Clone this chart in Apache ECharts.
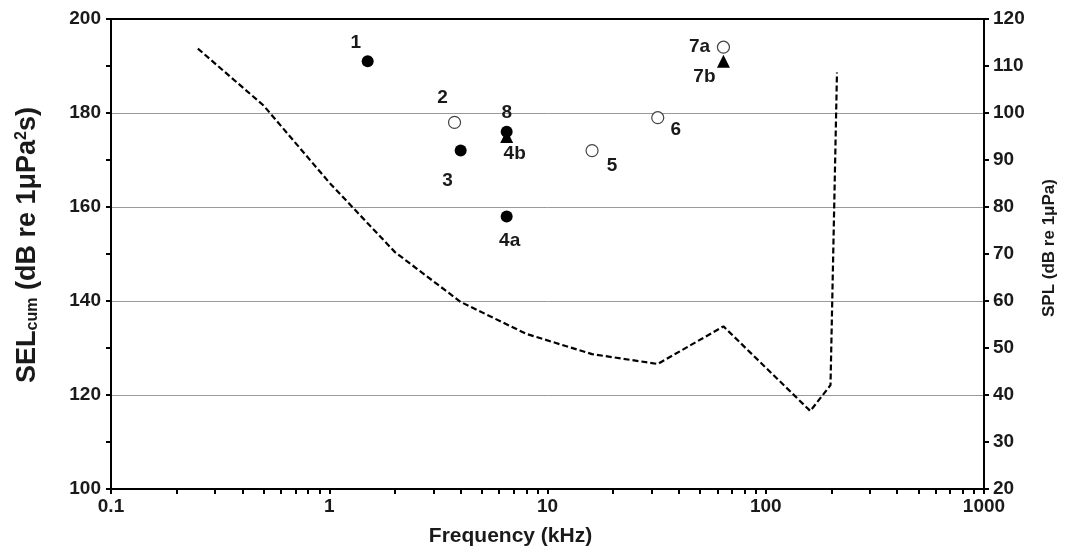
<!DOCTYPE html>
<html>
<head>
<meta charset="utf-8">
<style>
html,body{margin:0;padding:0;background:#fff;}
#chart{width:1068px;height:553px;}
</style>
<script src="https://cdn.jsdelivr.net/npm/echarts@6/dist/echarts.min.js"></script>
</head>
<body>
<div id="chart"></div>
<script>
// ---- data ----
const filledNames = ['1', '3', '4a', '8'];
const filledFreq = [1.5, 4, 6.5, 6.5];
const filledSEL = [191, 172, 158, 176];

const openNames = ['2', '5', '6', '7a'];
const openFreq = [3.75, 16, 32, 64];
const openSEL = [178, 172, 179, 194];

const triNames = ['4b', '7b'];
const triFreq = [6.5, 64];
const triSEL = [175, 191];

const audioFreq = [0.25, 0.5, 1, 2, 4, 8, 16, 32, 64, 160, 198, 212];
const audioSPL = [113.7, 101.6, 85.2, 70.4, 59.8, 53.0, 48.7, 46.6, 54.6, 36.6, 42.1, 108.6];

const xTickLabels = [0.1, 1, 10, 100, 1000];
const leftTicks = [100, 120, 140, 160, 180, 200];
const rightTicks = [20, 30, 40, 50, 60, 70, 80, 90, 100, 110, 120];

// ---- label placement (style) ----
const labelOffsets = {
  '1': [-12, -19], '2': [-12, -25], '3': [-13, 30], '8': [0, -19], '4b': [8, 17],
  '4a': [3, 24], '5': [20, 15], '6': [18, 12], '7a': [-24, 0], '7b': [-19, 15]
};

const fontFam = '"Liberation Sans", Arial, sans-serif';
const txt = '#1a1a1a';

function pts(names, xs, ys) {
  return names.map((n, i) => ({
    name: n,
    value: [xs[i], ys[i]],
    label: {
      show: true, position: 'inside', offset: labelOffsets[n], opacity: 1,
      formatter: n, color: txt, fontFamily: fontFam, fontWeight: 'bold', fontSize: 19
    }
  }));
}

// minor ticks for log axis
const minorVals = [];
for (let e = -1; e < 3; e++) {
  for (let k = 1; k < 10; k++) minorVals.push(parseFloat((k * Math.pow(10, e)).toPrecision(6)));
}
minorVals.push(1000);

const chart = echarts.init(document.getElementById('chart'));
chart.setOption({
  animation: false,
  backgroundColor: '#fff',
  grid: { left: 111, right: 84, top: 19, bottom: 64, containLabel: false },
  xAxis: [{
    type: 'log', logBase: 10, min: 0.1, max: 1000,
    name: 'Frequency (kHz)', nameLocation: 'middle', nameGap: 37,
    nameTextStyle: { color: txt, fontFamily: fontFam, fontWeight: 'bold', fontSize: 21, padding: [0, 74, 0, 0] },
    axisLine: { show: true, onZero: false, lineStyle: { color: '#000', width: 2 } },
    axisTick: { show: true, inside: false, length: 5, lineStyle: { color: '#000', width: 2 }, customValues: minorVals },
    minorTick: { show: false },
    splitLine: { show: false },
    axisLabel: {
      customValues: xTickLabels, color: txt, fontFamily: fontFam, fontWeight: 'bold', fontSize: 19, margin: 8,
      formatter: v => String(parseFloat(Number(v).toPrecision(6)))
    }
  }, {
    type: 'log', logBase: 10, min: 0.1, max: 1000, position: 'top',
    axisLine: { show: true, onZero: false, lineStyle: { color: '#000', width: 2 } },
    axisTick: { show: false }, axisLabel: { show: false }, splitLine: { show: false }
  }],
  yAxis: [{
    type: 'value', min: 100, max: 200, interval: 20, position: 'left',
    name: 'SEL{sub|cum} (dB re 1μPa{sup|2}s)', nameLocation: 'middle', nameGap: 70, nameRotate: 90,
    nameTextStyle: {
      color: txt, fontFamily: fontFam, fontWeight: 'bold', fontSize: 27, padding: [0, 0, 0, 18],
      rich: {
        sub: { fontSize: 16, fontWeight: 'bold', fontFamily: fontFam, color: txt, verticalAlign: 'bottom', padding: [10, 0, 0, 0] },
        sup: { fontSize: 16, fontWeight: 'bold', fontFamily: fontFam, color: txt, verticalAlign: 'top', padding: [0, 0, 10, 0] }
      }
    },
    axisLine: { show: true, onZero: false, lineStyle: { color: '#000', width: 2 } },
    axisTick: { show: true, inside: false, length: 5, lineStyle: { color: '#000', width: 2 } },
    minorTick: { show: true, splitNumber: 2, length: 5, lineStyle: { color: '#000', width: 2 } },
    splitLine: { show: true, lineStyle: { color: '#9a9a9a', width: 1 } },
    axisLabel: { color: txt, fontFamily: fontFam, fontWeight: 'bold', fontSize: 19, margin: 10, customValues: leftTicks }
  }, {
    type: 'value', min: 20, max: 120, interval: 10, position: 'right',
    name: 'SPL (dB re 1μPa)', nameLocation: 'middle', nameGap: 57, nameRotate: 90,
    nameTextStyle: { color: txt, fontFamily: fontFam, fontWeight: 'bold', fontSize: 17, padding: [0, 0, 0, 12] },
    axisLine: { show: true, onZero: false, lineStyle: { color: '#000', width: 2 } },
    axisTick: { show: true, inside: false, length: 5, lineStyle: { color: '#000', width: 2 } },
    splitLine: { show: false },
    axisLabel: { color: txt, fontFamily: fontFam, fontWeight: 'bold', fontSize: 19, margin: 9, customValues: rightTicks }
  }],
  series: [{
    type: 'line', xAxisIndex: 0, yAxisIndex: 1,
    data: audioFreq.map((f, i) => [f, audioSPL[i]]),
    showSymbol: false, symbol: 'none',
    lineStyle: { color: '#000', width: 2.2, type: [6, 3] },
    z: 2
  }, {
    type: 'scatter', xAxisIndex: 0, yAxisIndex: 0,
    data: pts(openNames, openFreq, openSEL),
    symbol: 'circle', symbolSize: 12,
    itemStyle: { color: '#fff', borderColor: '#444', borderWidth: 1.2, opacity: 1 },
    z: 3
  }, {
    type: 'scatter', xAxisIndex: 0, yAxisIndex: 0,
    data: pts(triNames, triFreq, triSEL),
    symbol: 'triangle', symbolSize: 13,
    itemStyle: { color: '#000', opacity: 1 },
    z: 4
  }, {
    type: 'scatter', xAxisIndex: 0, yAxisIndex: 0,
    data: pts(filledNames, filledFreq, filledSEL),
    symbol: 'circle', symbolSize: 12,
    itemStyle: { color: '#000', opacity: 1 },
    z: 5
  }]
});
</script>
</body>
</html>
